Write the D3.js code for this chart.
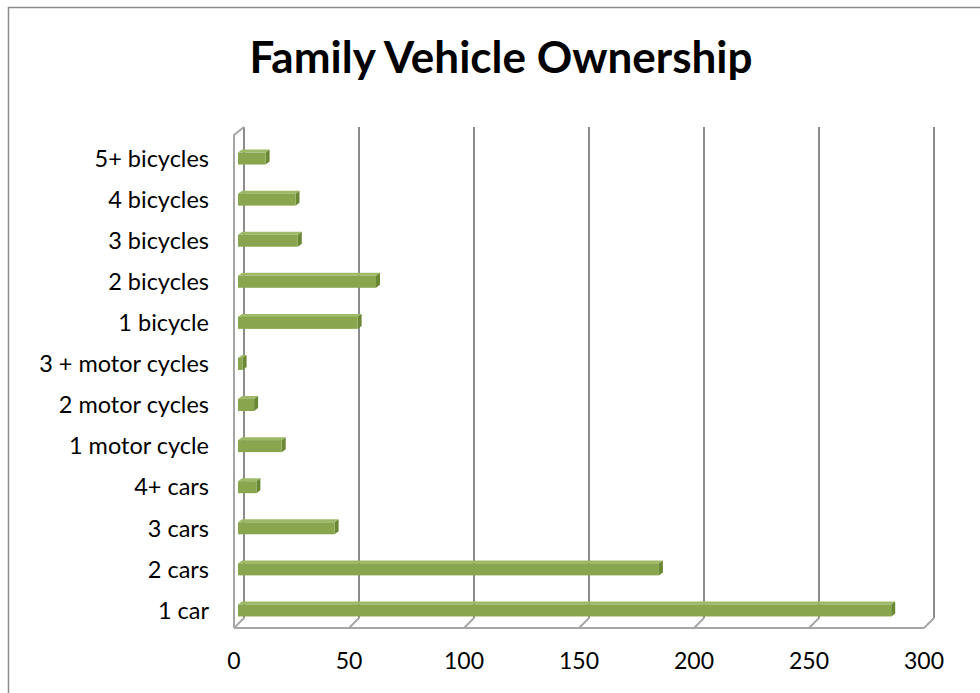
<!DOCTYPE html>
<html lang="en">
<head>
    <meta charset="UTF-8">
    <title>Family Vehicle Ownership</title>
    <script src="https://d3js.org/d3.v7.min.js"></script>
    <style>
        body { margin: 0; background: #fff; }
        svg { display: block; }
        text { font-family: Lato, "Open Sans", sans-serif; fill: #000; }
        .title { font-weight: bold; font-size: 44px; }
        .cat { font-size: 23.5px; }
        .tick-label { font-size: 23px; }
        .grid { stroke: #8c8c8c; stroke-width: 2px; fill: none; }
        .floor { stroke: #a6a6a6; stroke-width: 2px; fill: none; }
    </style>
</head>
<body>
<svg id="chart" width="980" height="693"></svg>
<script>
    // categories, bottom to top as in the chart
    const categories = ["1 car", "2 cars", "3 cars", "4+ cars", "1 motor cycle", "2 motor cycles",
        "3 + motor cycles", "1 bicycle", "2 bicycles", "3 bicycles", "4 bicycles", "5+ bicycles"];
    const values = [284, 183, 42, 8, 19, 7, 2, 52, 60, 26, 25, 12];
    const ticks = [0, 50, 100, 150, 200, 250, 300];

    const svg = d3.select("#chart");

    // outer chart border (runs off the right and bottom of the picture)
    svg.append("rect")
        .attr("x", 8.5).attr("y", 7.5)
        .attr("width", 1000).attr("height", 1000)
        .attr("fill", "none").attr("stroke", "#8c8c8c").attr("stroke-width", 1.5);

    svg.append("text").attr("class", "title")
        .attr("x", 501).attr("y", 73)
        .attr("text-anchor", "middle")
        .text("Family Vehicle Ownership");

    // 3d depth offset of the back wall
    const depthX = 10, depthY = -10;
    const x = d3.scaleLinear().domain([0, 300]).range([234, 924]);
    const floorY = 628, topY = 137;

    // back wall gridlines
    svg.append("g").selectAll("line")
        .data(ticks)
        .enter().append("line")
        .attr("class", "grid")
        .attr("x1", d => x(d) + depthX).attr("x2", d => x(d) + depthX)
        .attr("y1", topY + depthY).attr("y2", floorY + depthY);

    // floor lines from back to front
    svg.append("g").selectAll("line")
        .data(ticks)
        .enter().append("line")
        .attr("class", "floor")
        .attr("x1", d => x(d) + depthX).attr("y1", floorY + depthY)
        .attr("x2", d => x(d)).attr("y2", floorY);

    svg.append("line").attr("class", "floor")
        .attr("x1", x(0)).attr("x2", x(300))
        .attr("y1", floorY).attr("y2", floorY);

    // left side wall edge
    svg.append("path").attr("class", "floor")
        .attr("d", `M${x(0)},${floorY}V${topY - 2}L${x(0) + depthX},${topY + depthY}`);

    // bars
    const y = d3.scaleBand()
        .domain(categories.slice().reverse())
        .range([138, 631]);
    const barH = 12, bdx = 4, bdy = -3;
    const xb = d3.scaleLinear().domain([0, 300]).range([x(0) + 4, x(300) + 4]);

    const bars = svg.append("g").selectAll("g")
        .data(categories.map((c, i) => ({ cat: c, val: values[i] })))
        .enter().append("g")
        .attr("transform", d => `translate(0,${y(d.cat) + y.bandwidth() / 2 - barH / 2})`);

    // top face
    bars.append("path")
        .attr("fill", "#9fba66")
        .attr("d", d => `M${xb(0)},0L${xb(0) + bdx},${bdy}L${xb(d.val) + bdx},${bdy}L${xb(d.val)},0Z`);
    // side face
    bars.append("path")
        .attr("fill", "#6a8733")
        .attr("d", d => `M${xb(d.val)},0L${xb(d.val) + bdx},${bdy}L${xb(d.val) + bdx},${barH + bdy}L${xb(d.val)},${barH}Z`);
    // front face
    bars.append("rect")
        .attr("fill", "#89a64f")
        .attr("x", xb(0)).attr("y", 0)
        .attr("width", d => xb(d.val) - xb(0))
        .attr("height", barH);

    // category labels
    svg.append("g").selectAll("text")
        .data(categories)
        .enter().append("text")
        .attr("class", "cat")
        .attr("x", 209)
        .attr("y", d => y(d) + y.bandwidth() / 2)
        .attr("dy", "0.35em")
        .attr("text-anchor", "end")
        .text(d => d);

    // value axis labels
    svg.append("g").selectAll("text")
        .data(ticks)
        .enter().append("text")
        .attr("class", "tick-label")
        .attr("x", d => x(d))
        .attr("y", 669)
        .attr("text-anchor", "middle")
        .text(d => d);
</script>
</body>
</html>
